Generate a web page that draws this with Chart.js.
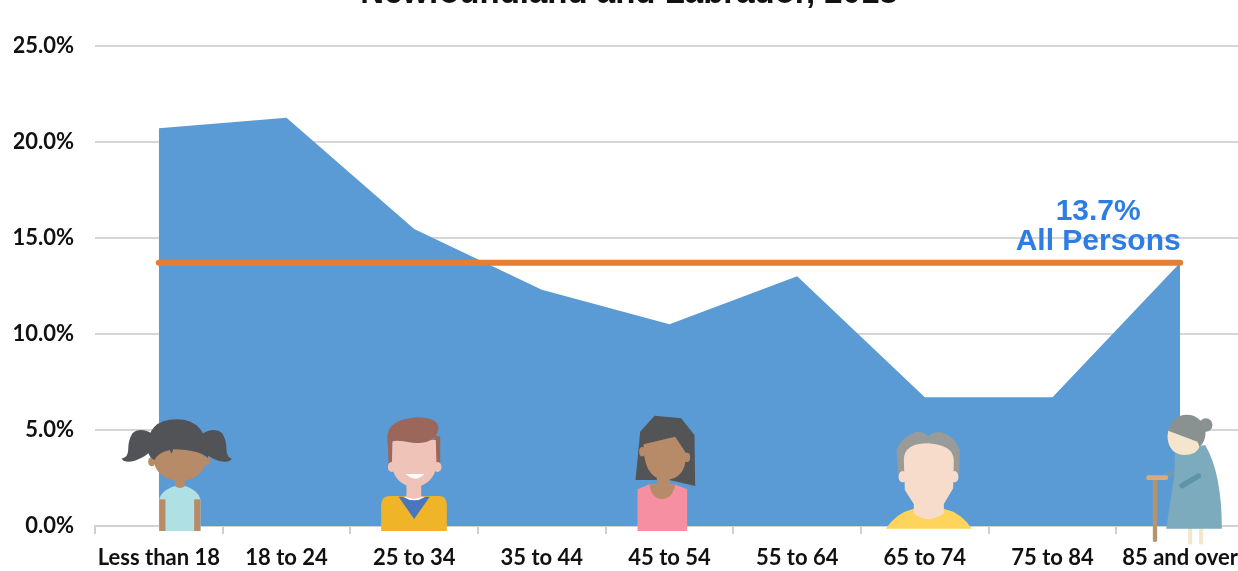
<!DOCTYPE html>
<html><head><meta charset="utf-8">
<style>
html,body{margin:0;padding:0;background:#fff;overflow:hidden;width:1238px;height:571px}
#wrap{position:absolute;left:0;top:0;width:1238px;height:571px;overflow:hidden}
#box{position:absolute;left:0;top:-40px;width:1260px;height:620px}
</style>
<script src="https://cdn.jsdelivr.net/npm/chart.js@4"></script>
</head><body>
<div id="wrap"><div id="box"><canvas id="c"></canvas></div></div>
<script>
const categories = ['Less than 18','18 to 24','25 to 34','35 to 44','45 to 54','55 to 64','65 to 74','75 to 84','85 and over'];
const ageGroupRates = [20.7,21.25,15.45,12.3,10.5,13.0,6.7,6.7,13.7];
const allPersonsRates = [13.7,13.7,13.7,13.7,13.7,13.7,13.7,13.7,13.7];
const allPersonsLabel = ['13.7%','All Persons'];
const titleText = 'Newfoundland and Labrador, 2018';

function path(ctx, pts, fill){ctx.fillStyle=fill;ctx.beginPath();pts.forEach((p,i)=>{
  if(p.length===2){i?ctx.lineTo(p[0],p[1]):ctx.moveTo(p[0],p[1]);}
  else ctx.quadraticCurveTo(p[0],p[1],p[2],p[3]);});ctx.closePath();ctx.fill();}
function disc(ctx,x,y,rx,ry,fill){ctx.fillStyle=fill;ctx.beginPath();ctx.ellipse(x,y,rx,ry,0,0,Math.PI*2);ctx.fill();}

function girl(c){
  const hair='#525356',skin='#B88B68';
  path(c,[[455,100],[420,80,398,100],[385,120,385,150],[385,172,365,176],[375,190,405,182],[440,170,455,150]],hair);
  path(c,[[610,100],[645,80,667,100],[680,120,680,150],[680,172,696,176],[688,190,655,182],[620,170,610,150]],hair);
  disc(c,456,185,11,14,skin);disc(c,622,182,10,13,skin);
  disc(c,540,185,76,58,skin);
  c.fillStyle=skin;c.fillRect(525,235,30,30);
  path(c,[[478,298],[485,270,525,258],[540,270,556,258],[595,270,602,298],[602,393],[478,393]],'#AFE0E4');
  c.fillStyle=skin;c.fillRect(478,298,19,95);c.fillRect(583,298,19,95);
  path(c,[[443,150],[440,58,530,58],[625,58,625,175],[600,150,520,148],[515,170,510,150],[470,160,465,180],[448,175,443,150]],hair);
}
function boy(c){
  const skin='#F0C3B8',hair='#9B675B';
  path(c,[[1165,105],[1180,105],[1180,190],[1168,190]],hair);
  path(c,[[1305,105],[1323,110],[1323,190],[1310,190]],hair);
  disc(c,1178,201,12,15,skin);disc(c,1315,201,12,15,skin);
  path(c,[[1180,120],[1310,120],[1312,200],[1300,255,1245,262],[1190,255,1178,200]],skin);
  c.fillStyle=skin;c.fillRect(1222,245,44,60);
  path(c,[[1165,110],[1165,60,1250,52],[1318,52,1318,85],[1310,135,1240,128],[1175,115,1175,130],[1165,130]],hair);
  path(c,[[1220,222],[1275,222],[1250,250,1220,222]],'#fff');
  path(c,[[1170,288],[1322,288],[1343,290,1343,315],[1343,393],[1146,393],[1146,315],[1146,290,1170,288]],'#F0B428');
  path(c,[[1198,290],[1292,290],[1245,357]],'#4A76BE');
  path(c,[[1212,290],[1278,290],[1245,312,1212,290]],'#fff');
  path(c,[[1222,285],[1266,285],[1266,292],[1245,300,1222,292]],skin);
}
function woman(c){
  const hair='#535456',skin='#B88B68';
  path(c,[[465,47],[545,55],[585,105],[587,258],[510,240],[475,240],[408,240],[422,95]],hair);
  disc(c,428,155,9,14,skin);disc(c,563,172,9,14,skin);
  path(c,[[432,133],[527,110],[560,160],[560,240,495,240],[432,235,432,133]],skin);
  path(c,[[414,268],[450,253],[525,253],[563,268],[563,393],[414,393]],'#F78FA3');
  c.fillStyle=skin;c.fillRect(472,230,38,30);
  path(c,[[450,253],[527,253],[520,297,488,297],[455,297,450,253]],skin);
}
function oldMan(c){
  const skin='#F8DCCB',hair='#999B98';
  path(c,[[258,386],[290,338,342,326],[432,326],[485,338,516,386]],'#FFD45C');
  path(c,[[290,150],[305,110,350,95],[375,95,385,110],[395,95,425,97],[465,110,480,150],[478,220],[295,220]],hair);
  disc(c,308,230,12,17,skin);disc(c,464,230,12,17,skin);
  path(c,[[385,130],[312,130,312,180],[315,270],[342,312],[342,340],[385,375,432,340],[432,312],[460,265],[462,180],[460,135,385,130]],skin);
}
function grandma(c){
  c.fillStyle='#F2E6CC';c.fillRect(1164,380,12,53);c.fillRect(1197,380,12,53);
  c.strokeStyle='#6E9DAE';c.lineWidth=12;c.lineCap='round';c.beginPath();c.moveTo(1092,228);c.lineTo(1125,215);c.stroke();
  path(c,[[1125,150],[1215,135],[1265,220,1265,386],[1098,386],[1122,230]],'#7BABBD');
  c.strokeStyle='#5F94A6';c.lineWidth=16;c.beginPath();c.moveTo(1146,257);c.lineTo(1195,228);c.stroke();
  c.fillStyle='#B8946A';c.fillRect(1058,238,13,185);
  disc(c,1064,423,6,3,'#B8946A');
  c.fillStyle='#D4AE79';c.beginPath();c.roundRect(1038,226,66,14,6);c.fill();
  disc(c,1217,75,20,20,'#8A9191');
  disc(c,1160,100,56,56,'#8A9191');
  path(c,[[1104,92],[1192,125],[1198,140],[1190,165,1150,165],[1105,160,1102,110]],'#F4E6CC');
}
const figures = [
  {draw:girl,index:0,dx:-159,origin:0},
  {draw:boy,index:2,dx:-415,origin:0},
  {draw:woman,index:4,dx:-670,origin:500},
  {draw:oldMan,index:6,dx:-925,origin:800},
  {draw:grandma,index:8,dx:-1180,origin:800}
];
const overlay = {
  id:'overlay',
  afterDatasetsDraw(chart){
    const {ctx,scales:{x,y}}=chart;
    const yBase=y.getPixelForValue(0);
    ctx.save();
    ctx.fillStyle='#2E7DE3';
    ctx.font='bold 30px "Liberation Sans"';
    ctx.textAlign='center';ctx.textBaseline='middle';
    const cx=x.getPixelForValue(8)-82, ly=y.getPixelForValue(allPersonsRates[8]);
    ctx.fillText(allPersonsLabel[0],cx,ly-51);
    ctx.fillText(allPersonsLabel[1],cx,ly-21);
    ctx.restore();
    figures.forEach(f=>{
      ctx.save();
      ctx.translate(x.getPixelForValue(f.index)+f.dx+f.origin,yBase-126);
      ctx.scale(1/3,1/3);
      f.draw(ctx);
      ctx.restore();
    });
  }
};
new Chart(document.getElementById('c'),{
  type:'line',
  data:{labels:categories,datasets:[
    {label:'All Persons',data:allPersonsRates,borderColor:'#E37E33',borderWidth:6,borderCapStyle:'round',pointRadius:0,fill:false,tension:0,order:1},
    {label:'Age group',data:ageGroupRates,borderWidth:0,borderColor:'#5B9BD5',backgroundColor:'#5B9BD5',pointRadius:0,fill:'origin',tension:0,order:2}
  ]},
  plugins:[overlay],
  options:{
    responsive:true,maintainAspectRatio:false,animation:false,
    layout:{padding:{left:14,right:16,top:0,bottom:0}},
    plugins:{
      legend:{display:false},tooltip:{enabled:false},
      title:{display:true,text:titleText,color:'#111',font:{family:'"Liberation Sans"',size:33,weight:'bold'},padding:{top:14,bottom:32}}
    },
    scales:{
      x:{offset:true,
        afterFit(s){s.height=54;},
        border:{color:'#d2d2d2',width:2},
        grid:{offset:true,drawOnChartArea:false,drawTicks:true,tickLength:8,color:'#cfcfcf',lineWidth:2},
        ticks:{autoSkip:false,maxRotation:0,padding:11,color:'#111',font:{family:'Lato',size:22,weight:'bold'}}
      },
      y:{min:0,max:25,
        afterFit(s){s.width=81;},
        border:{display:false},
        grid:{drawTicks:false,color:'#d6d6d6',lineWidth:2},
        ticks:{stepSize:5,padding:21,color:'#111',font:{family:'Lato',size:22,weight:'bold'},callback:v=>v.toFixed(1)+'%'}
      }
    }
  }
});
</script>
</body></html>
